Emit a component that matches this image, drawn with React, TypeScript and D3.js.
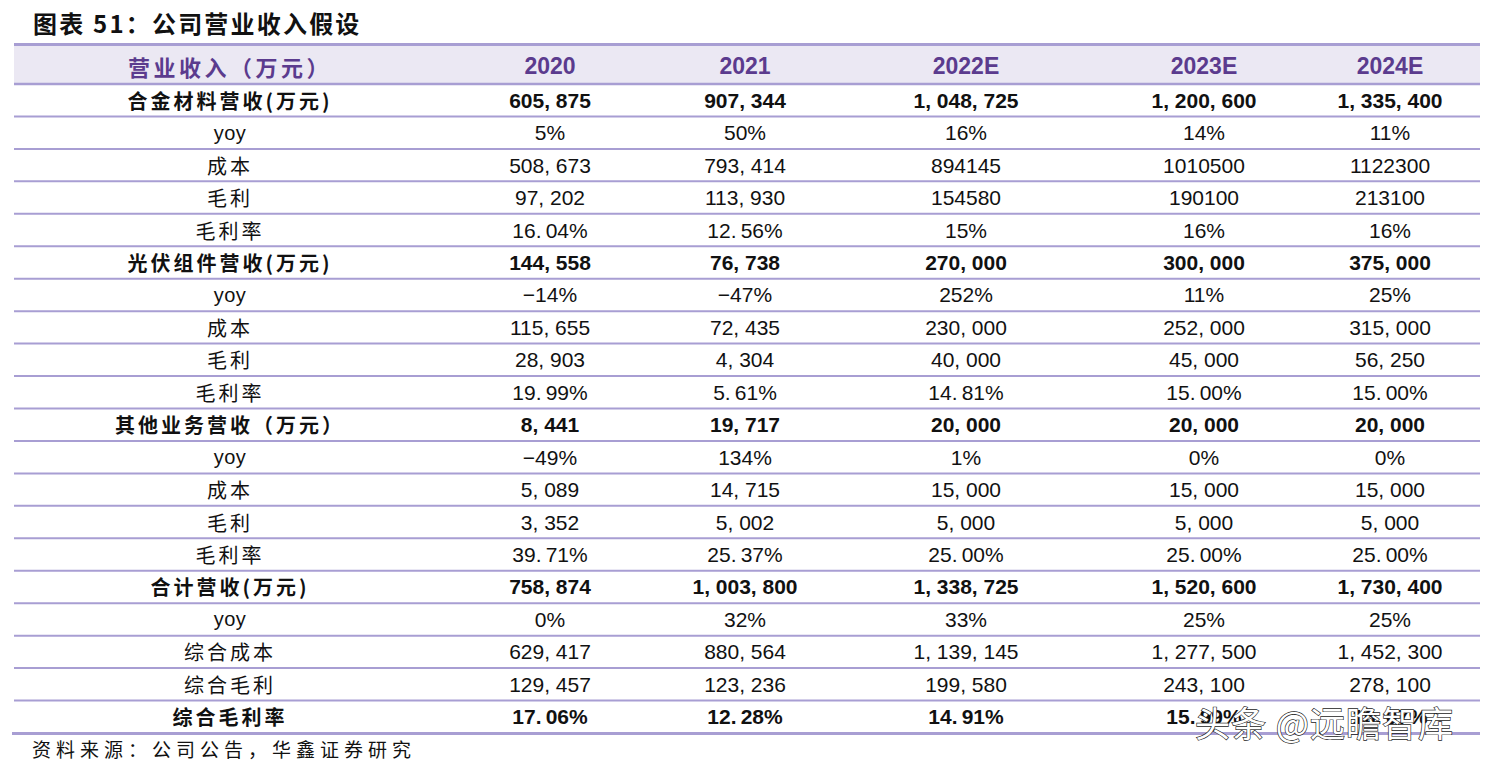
import React from "react";
import * as d3 from "d3";

const title = "图表 51：公司营业收入假设";
const source = "资料来源：公司公告，华鑫证券研究";
const headerLabel = "营业收入（万元）";
const years = ["2020", "2021", "2022E", "2023E", "2024E"];

const rowLabels = [
  "合金材料营收(万元)", "yoy", "成本", "毛利", "毛利率",
  "光伏组件营收(万元)", "yoy", "成本", "毛利", "毛利率",
  "其他业务营收（万元）", "yoy", "成本", "毛利", "毛利率",
  "合计营收(万元)", "yoy", "综合成本", "综合毛利", "综合毛利率",
];
const boldRows = [0, 5, 10, 15, 19];

const alloyRevenue = ["605,875", "907,344", "1,048,725", "1,200,600", "1,335,400"];
const alloyYoy = ["5%", "50%", "16%", "14%", "11%"];
const alloyCost = ["508,673", "793,414", "894145", "1010500", "1122300"];
const alloyGross = ["97,202", "113,930", "154580", "190100", "213100"];
const alloyMargin = ["16.04%", "12.56%", "15%", "16%", "16%"];
const pvRevenue = ["144,558", "76,738", "270,000", "300,000", "375,000"];
const pvYoy = ["-14%", "-47%", "252%", "11%", "25%"];
const pvCost = ["115,655", "72,435", "230,000", "252,000", "315,000"];
const pvGross = ["28,903", "4,304", "40,000", "45,000", "56,250"];
const pvMargin = ["19.99%", "5.61%", "14.81%", "15.00%", "15.00%"];
const otherRevenue = ["8,441", "19,717", "20,000", "20,000", "20,000"];
const otherYoy = ["-49%", "134%", "1%", "0%", "0%"];
const otherCost = ["5,089", "14,715", "15,000", "15,000", "15,000"];
const otherGross = ["3,352", "5,002", "5,000", "5,000", "5,000"];
const otherMargin = ["39.71%", "25.37%", "25.00%", "25.00%", "25.00%"];
const totalRevenue = ["758,874", "1,003,800", "1,338,725", "1,520,600", "1,730,400"];
const totalYoy = ["0%", "32%", "33%", "25%", "25%"];
const totalCost = ["629,417", "880,564", "1,139,145", "1,277,500", "1,452,300"];
const totalGross = ["129,457", "123,236", "199,580", "243,100", "278,100"];
const totalMargin = ["17.06%", "12.28%", "14.91%", "15.99%", "16.07%"];

const rowValues = [
  alloyRevenue, alloyYoy, alloyCost, alloyGross, alloyMargin,
  pvRevenue, pvYoy, pvCost, pvGross, pvMargin,
  otherRevenue, otherYoy, otherCost, otherGross, otherMargin,
  totalRevenue, totalYoy, totalCost, totalGross, totalMargin,
];

const watermark = "头条 @远瞻智库";

const W = 1491;
const H = 769;
const LINE = "#a89ed3";
const HEAD_BG = "#ebe8f3";
const HEAD_TXT = "#5b3b8e";
const FONT = "'Liberation Sans', 'Noto Sans CJK SC', sans-serif";
const CJK = "'Noto Sans CJK SC', 'Liberation Sans', sans-serif";

const colKeys = ["label", ...years];
const colX = d3.scaleOrdinal<string, number>().domain(colKeys).range([230, 550, 745, 966, 1204, 1390]);
const rowY = d3.scaleBand<number>().domain(d3.range(rowLabels.length)).range([84, 733]).padding(0);

const dispNum = (s: string) => s.replace(/,/g, ", ").replace(/\./g, ".\u2009").replace(/^-/, "\u2212");

export default function App() {
  React.useEffect(() => {
    document.body.style.margin = "0";
  }, []);
  const x0 = 14;
  const x1 = 1480;
  return (
    <svg width={W} height={H} style={{ position: "fixed", left: 0, top: 0, background: "#fff" }}>
      <text x={33} y={33} fontFamily={CJK} fontWeight={700} fontSize={24} letterSpacing={2.2} fill="#111">
        {title}
      </text>
      <rect x={x0} y={44} width={x1 - x0} height={40} fill={HEAD_BG} />
      <line x1={x0} x2={x1} y1={44.5} y2={44.5} stroke={LINE} strokeWidth={3} />
      <text x={colX("label")} y={66} textAnchor="middle" dominantBaseline="central" fontFamily={CJK}
        fontWeight={700} fontSize={22} letterSpacing={3.5} fill={HEAD_TXT}>
        {headerLabel}
      </text>
      {years.map((yr) => (
        <text key={yr} x={colX(yr)} y={66} textAnchor="middle" dominantBaseline="central" fontFamily={FONT}
          fontWeight={700} fontSize={23} fill={HEAD_TXT}>
          {yr}
        </text>
      ))}
      {rowLabels.map((lab, i) => {
        const y = (rowY(i) as number) + rowY.bandwidth() / 2;
        const bold = boldRows.includes(i);
        return (
          <g key={i}>
            <text x={colX("label")} y={y} textAnchor="middle" dominantBaseline="central"
              fontFamily={lab === "yoy" ? FONT : CJK} fontWeight={bold ? 700 : 400} fontSize={20}
              letterSpacing={lab === "yoy" ? 0.5 : 3} fill="#111">
              {lab}
            </text>
            {rowValues[i].map((v, j) => (
              <text key={j} x={colX(years[j])} y={y} textAnchor="middle" dominantBaseline="central"
                fontFamily={FONT} fontWeight={bold ? 700 : 400} fontSize={21} fill="#111">
                {dispNum(v)}
              </text>
            ))}
          </g>
        );
      })}
      {d3.range(rowLabels.length).map((i) => {
        const y = (rowY(i) as number);
        return <line key={"l" + i} x1={x0} x2={x1} y1={y} y2={y} stroke={LINE} strokeWidth={i === 0 ? 2.5 : 2} />;
      })}
      <line x1={12} x2={x1} y1={733.5} y2={733.5} stroke={LINE} strokeWidth={3} />
      <text x={32} y={757} fontFamily={CJK} fontSize={19} letterSpacing={5} fill="#111">
        {source}
      </text>
      <text x={1195} y={737} fontFamily={CJK} fontSize={35} fill="#fff" stroke="#222" strokeWidth={1.3}
        paintOrder="stroke" letterSpacing={1}>
        {watermark}
      </text>
    </svg>
  );
}
